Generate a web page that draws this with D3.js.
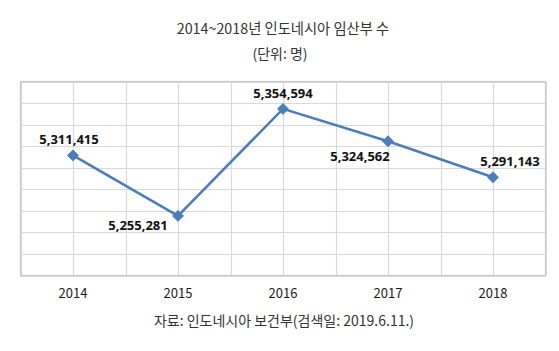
<!DOCTYPE html>
<html><head><meta charset="utf-8">
<script src="https://cdn.jsdelivr.net/npm/d3@7"></script>
<style>
html,body{margin:0;padding:0;background:#fff;}
svg{display:block;}
</style></head>
<body>
<svg id="chart" width="559" height="351"></svg>
<script>
const title = "2014~2018년 인도네시아 임산부 수";
const subtitle = "(단위: 명)";
const source = "자료: 인도네시아 보건부(검색일: 2019.6.11.)";
const years = ["2014", "2015", "2016", "2017", "2018"];
const births = [5311415, 5255281, 5354594, 5324562, 5291143];
const yTicks = [5200000, 5220000, 5240000, 5260000, 5280000, 5300000, 5320000, 5340000, 5360000, 5380000];
// label placement (offsets from marker)
const labelDx = [-4, -40, 0, -28, 17];
const labelDy = [-11, 14, -11, 20, -11];

const svg = d3.select("#chart");
const W = 559, H = 351;
const m = {left: 20.5, right: 13.5, top: 81.5, bottom: 75.5};
const pw = W - m.left - m.right, ph = H - m.top - m.bottom;
const KR = "'Noto Sans CJK KR', 'Noto Sans', sans-serif";

const x = d3.scaleBand().domain(years).range([m.left, m.left + pw]);
const y = d3.scaleLinear().domain([yTicks[0], yTicks[yTicks.length - 1]]).range([m.top + ph, m.top]);

// horizontal gridlines
svg.append("g").selectAll("line").data(yTicks).join("line")
  .attr("x1", m.left).attr("x2", m.left + pw)
  .attr("y1", d => Math.round(y(d)) + 0.5).attr("y2", d => Math.round(y(d)) + 0.5)
  .attr("stroke", "#d9d9d9").attr("stroke-width", 1.2);

// vertical gridlines (band edges and centers)
const vx = [];
years.forEach(d => { vx.push(x(d)); vx.push(x(d) + x.bandwidth() / 2); });
vx.push(m.left + pw);
svg.append("g").selectAll("line").data(vx).join("line")
  .attr("x1", d => Math.round(d) + 0.5).attr("x2", d => Math.round(d) + 0.5)
  .attr("y1", m.top).attr("y2", m.top + ph)
  .attr("stroke", "#d9d9d9").attr("stroke-width", 1.2);

// plot border
svg.append("rect").attr("x", m.left).attr("y", m.top).attr("width", pw).attr("height", ph)
  .attr("fill", "none").attr("stroke", "#c8c8c8").attr("stroke-width", 1.2);

// x axis labels
const xAxis = d3.axisBottom(x).tickSize(0).tickPadding(13);
const gx = svg.append("g").attr("transform", `translate(0,${m.top + ph})`).call(xAxis);
gx.select(".domain").remove();
gx.selectAll("text").attr("font-family", KR).attr("font-size", 13).attr("fill", "#1a1a1a").attr("font-weight", 400);

const cx = d => x(d) + x.bandwidth() / 2;

// line
const line = d3.line().x((d, i) => cx(years[i])).y(d => y(d));
svg.append("path").datum(births).attr("d", line)
  .attr("fill", "none").attr("stroke", "#4a7ebb").attr("stroke-width", 2.5);

// markers
svg.append("g").selectAll("path").data(births).join("path")
  .attr("d", d3.symbol().type(d3.symbolDiamond2).size(75))
  .attr("transform", (d, i) => `translate(${cx(years[i])},${y(d)})`)
  .attr("fill", "#4a7ebb").attr("stroke", "#4a7ebb").attr("stroke-width", 1);

// data labels
const fmt = d3.format(",");
svg.append("g").selectAll("text").data(births).join("text")
  .attr("x", (d, i) => cx(years[i]) + labelDx[i])
  .attr("y", (d, i) => y(d) + labelDy[i])
  .attr("text-anchor", "middle")
  .attr("font-family", "'Noto Sans', 'Liberation Sans', sans-serif")
  .attr("font-weight", "bold").attr("font-size", 13).attr("fill", "#111")
  .text(d => fmt(d));

// titles
svg.append("text").attr("x", 283).attr("y", 33.5).attr("text-anchor", "middle")
  .attr("font-family", KR).attr("font-size", 14.3).attr("fill", "#333").text(title);
svg.append("text").attr("x", 280).attr("y", 58.5).attr("text-anchor", "middle")
  .attr("font-family", KR).attr("font-size", 14).attr("fill", "#333").text(subtitle);
svg.append("text").attr("x", 284).attr("y", 326).attr("text-anchor", "middle")
  .attr("font-family", KR).attr("font-size", 14).attr("fill", "#333").text(source);
</script>
</body></html>
